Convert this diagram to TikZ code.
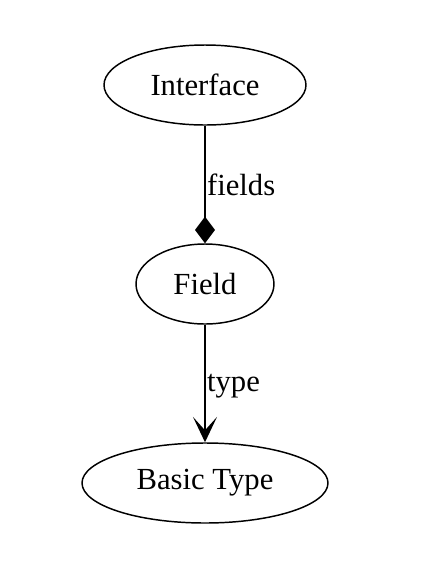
\documentclass[tikz,border=0pt]{standalone}
\usepackage{fontspec}
\setmainfont{Liberation Serif}
\usetikzlibrary{shapes.geometric,arrows.meta}
\begin{document}
\begin{tikzpicture}[x=0.75pt,y=-0.75pt,
  ell/.style={draw,ellipse,line width=1.1pt,inner sep=0pt,font=\fontsize{23pt}{26pt}\selectfont},
  conn/.style={line width=1.1pt},
  lbl/.style={anchor=west,inner sep=0pt,font=\fontsize{23pt}{26pt}\selectfont}]
\useasboundingbox (0,0) rectangle (421,562);
\node[ell,minimum width=202*0.75pt,minimum height=80*0.75pt] (iface) at (205,85) {Interface};
\node[ell,minimum width=138*0.75pt,minimum height=80*0.75pt] (field) at (205,284) {Field};
\node[ell,minimum width=246*0.75pt,minimum height=80*0.75pt] (basic) at (205,483) {Basic Type};
\draw[conn,-{Diamond[length=20pt,width=15pt]}] (iface) -- node[lbl,pos=0.5,xshift=1pt] {fields} (field);
\draw[conn,-{Stealth[length=19pt,width=18pt,inset=10pt]}] (field) -- node[lbl,pos=0.5,xshift=1pt,yshift=-2pt] {type} (basic);
\end{tikzpicture}
\end{document}
